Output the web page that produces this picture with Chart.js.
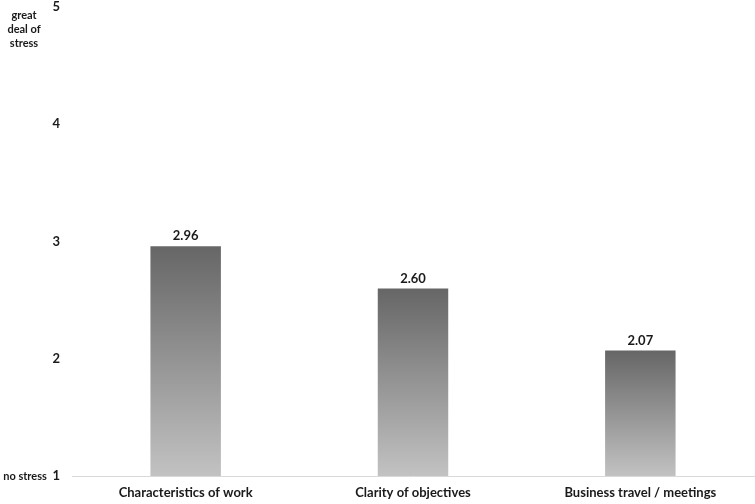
<!DOCTYPE html>
<html>
<head>
<meta charset="utf-8">
<script src="https://cdn.jsdelivr.net/npm/chart.js@4.4.1/dist/chart.umd.min.js"></script>
<style>
  html, body { margin: 0; padding: 0; background: #fff; }
  #wrap { width: 755px; height: 504px; position: relative; }
</style>
</head>
<body>
<div id="wrap"><canvas id="stressChart"></canvas></div>
<script>
const categories = ["Characteristics of work", "Clarity of objectives", "Business travel / meetings"];
const stressValues = [2.96, 2.60, 2.07];
const yTicks = [1, 2, 3, 4, 5];
const bottomLabel = "no stress";
const topLabel = ["great", "deal of", "stress"];

const fontFamily = "Lato, 'Open Sans', sans-serif";

function barGradient(context) {
  const chart = context.chart;
  const { chartArea } = chart;
  if (!chartArea) return '#888';
  const yScale = chart.scales.y;
  const top = yScale.getPixelForValue(context.raw);
  const bottom = yScale.getPixelForValue(1);
  const g = chart.ctx.createLinearGradient(0, top, 0, bottom);
  g.addColorStop(0, '#666666');
  g.addColorStop(1, '#c2c2c2');
  return g;
}

const valueLabels = {
  id: 'valueLabels',
  afterDatasetsDraw(chart) {
    const ctx = chart.ctx;
    const meta = chart.getDatasetMeta(0);
    ctx.save();
    ctx.font = 'bold 13px ' + fontFamily;
    ctx.fillStyle = '#1a1a1a';
    ctx.textAlign = 'center';
    ctx.textBaseline = 'middle';
    meta.data.forEach((bar, i) => {
      ctx.fillText(stressValues[i].toFixed(2), bar.x, bar.y - 10);
    });
    ctx.restore();
  }
};

const scaleNotes = {
  id: 'scaleNotes',
  afterDraw(chart) {
    const ctx = chart.ctx;
    const y = chart.scales.y;
    ctx.save();
    ctx.font = 'bold 11px ' + fontFamily;
    ctx.fillStyle = '#1a1a1a';
    ctx.textAlign = 'center';
    ctx.textBaseline = 'middle';
    ctx.fillText(bottomLabel, 25, y.getPixelForValue(1));
    topLabel.forEach((t, i) => {
      ctx.fillText(t, 24, 15 + i * 14);
    });
    ctx.restore();
  }
};

new Chart(document.getElementById('stressChart'), {
  type: 'bar',
  data: {
    labels: categories,
    datasets: [{
      data: stressValues,
      base: 1,
      backgroundColor: barGradient,
      borderWidth: 0,
      barPercentage: 0.31,
      categoryPercentage: 1
    }]
  },
  options: {
    responsive: true,
    maintainAspectRatio: false,
    animation: false,
    layout: { padding: { top: 7, right: 1, bottom: 0, left: 0 } },
    plugins: {
      legend: { display: false },
      tooltip: { enabled: false }
    },
    scales: {
      x: {
        afterFit(scale) {
          scale.height = 28;
          scale.paddingLeft = 0;
          scale.paddingRight = 0;
        },
        grid: { display: false, drawTicks: false },
        border: { display: true, color: '#d9d9d9', width: 1 },
        ticks: {
          color: '#1a1a1a',
          padding: 9,
          font: { family: fontFamily, size: 13, weight: 'bold' }
        }
      },
      y: {
        min: 1,
        max: 5,
        afterBuildTicks(scale) {
          scale.ticks = yTicks.map(v => ({ value: v }));
        },
        afterFit(scale) {
          scale.width = 72;
          scale.paddingTop = 0;
          scale.paddingBottom = 0;
        },
        grid: { display: false, drawTicks: false },
        border: { display: false },
        ticks: {
          color: '#1a1a1a',
          padding: 12,
          font: { family: fontFamily, size: 13, weight: 'bold' }
        }
      }
    }
  },
  plugins: [valueLabels, scaleNotes]
});
</script>
</body>
</html>
